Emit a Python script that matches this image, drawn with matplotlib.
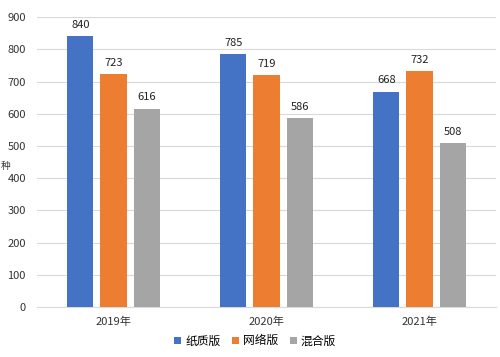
import matplotlib.pyplot as plt
import numpy as np

plt.rcParams['font.family'] = ['Noto Sans CJK SC', 'DejaVu Sans']

years = ['2019年', '2020年', '2021年']
series = ['纸质版', '网络版', '混合版']
paper = [840, 785, 668]
online = [723, 719, 732]
mixed = [616, 586, 508]
colors = ['#4472C4', '#ED7D31', '#A5A5A5']

fig = plt.figure(figsize=(5, 3.57), dpi=100)
ax = fig.add_axes([0.074, 0.14, 0.918, 0.812])

x = np.arange(len(years))
width = 0.17
step = 0.216
handles = []
for i, (vals, name) in enumerate(zip([paper, online, mixed], series)):
    bars = ax.bar(x + (i - 1) * step, vals, width, color=colors[i], label=name, zorder=3)
    handles.append(bars)
    for b, v in zip(bars, vals):
        ax.text(b.get_x() + b.get_width() / 2, v + 20, str(v), ha='center', va='bottom',
                fontsize=8, color='#222222')

ax.set_xlim(-0.5, 2.5)
ax.set_ylim(0, 900)
ax.set_yticks(range(0, 901, 100))
ax.set_xticks(x)
ax.set_xticklabels(years)
ax.yaxis.grid(True, color='#D9D9D9', linewidth=0.8, zorder=0)
for s in ['top', 'right', 'left']:
    ax.spines[s].set_visible(False)
ax.spines['bottom'].set_color('#D9D9D9')
ax.tick_params(axis='both', length=0, labelsize=8, colors='#333333')
ax.tick_params(axis='x', pad=7)
ax.tick_params(axis='y', pad=8)

# axis label at the left edge
fig.text(0.002, 0.535, '种', fontsize=7, ha='left', va='center', color='#333333')

fig.legend(handles=handles, labels=series, loc='center', bbox_to_anchor=(0.51, 0.045),
           ncol=3, frameon=False, fontsize=8.5, handlelength=0.6, handleheight=0.6,
           handletextpad=0.3, columnspacing=1.0)

fig.savefig('out.png', dpi=100)
